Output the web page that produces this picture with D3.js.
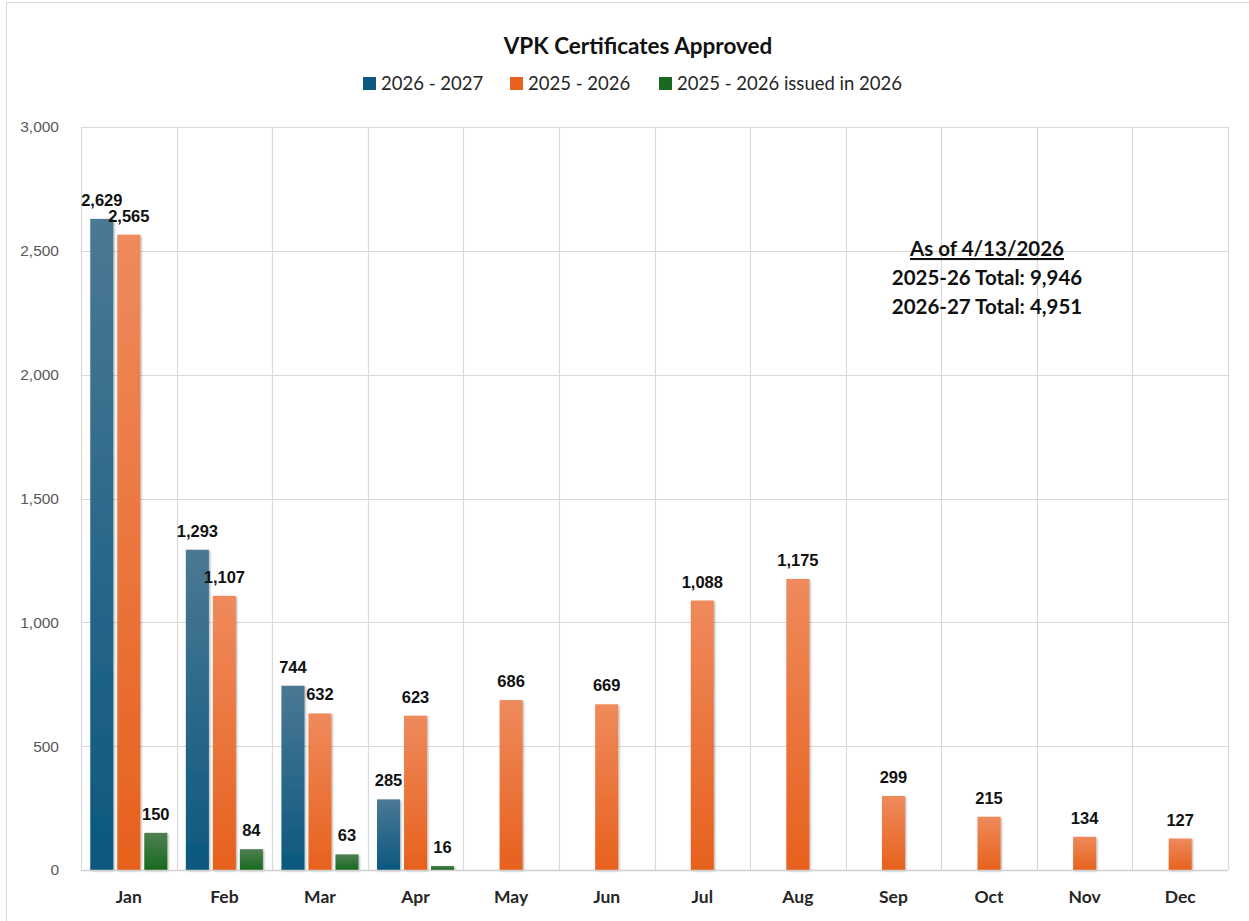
<!DOCTYPE html>
<html>
<head>
<meta charset="utf-8">
<script src="https://cdn.jsdelivr.net/npm/d3@7"></script>
<style>
  body { margin: 0; background: #fff; }
</style>
</head>
<body>
<div id="chart"></div>
<script>
// chart data
var months = ["Jan", "Feb", "Mar", "Apr", "May", "Jun", "Jul", "Aug", "Sep", "Oct", "Nov", "Dec"];
var seriesNames = ["2026 - 2027", "2025 - 2026", "2025 - 2026 issued in 2026"];
var values2627 = [2629, 1293, 744, 285, null, null, null, null, null, null, null, null];
var values2526 = [2565, 1107, 632, 623, 686, 669, 1088, 1175, 299, 215, 134, 127];
var values2526in2026 = [150, 84, 63, 16, null, null, null, null, null, null, null, null];
var yTicks = [0, 500, 1000, 1500, 2000, 2500, 3000];
var noteLines = ["As of 4/13/2026", "2025-26 Total: 9,946", "2026-27 Total: 4,951"];

var W = 1249, H = 921;
var margin = { top: 127, right: 21, bottom: 51, left: 81 };

var svg = d3.select("#chart")
  .append("svg")
    .attr("width", W)
    .attr("height", H)
    .style("font-family", "'Liberation Sans', Arial, sans-serif");

// outer chart border
svg.append("rect")
  .attr("x", 6.5).attr("y", 2.5)
  .attr("width", W + 20).attr("height", H + 20)
  .attr("fill", "#fff")
  .attr("stroke", "#d9d9d9");

var defs = svg.append("defs");
var colors = [
  { top: "#4b7894", bottom: "#0c587f" },
  { top: "#ef8a5c", bottom: "#e7611d" },
  { top: "#4f7f52", bottom: "#176a1f" }
];
colors.forEach(function(c, i) {
  var g = defs.append("linearGradient")
    .attr("id", "grad" + i)
    .attr("x1", 0).attr("y1", 0).attr("x2", 0).attr("y2", 1);
  g.append("stop").attr("offset", "0%").attr("stop-color", c.top);
  g.append("stop").attr("offset", "100%").attr("stop-color", c.bottom);
});
var shadow = defs.append("filter").attr("id", "shadow")
  .attr("x", "-30%").attr("y", "-10%").attr("width", "160%").attr("height", "130%");
shadow.append("feDropShadow")
  .attr("dx", 1).attr("dy", 1).attr("stdDeviation", 1.3)
  .attr("flood-color", "#000").attr("flood-opacity", 0.35);

var x = d3.scaleBand()
  .domain(months)
  .range([margin.left, W - margin.right]);

var xs = d3.scaleBand()
  .domain(d3.range(3))
  .range([0, x.bandwidth()])
  .paddingInner(0.148)
  .paddingOuter(0.344);

var y = d3.scaleLinear()
  .domain([0, 3000])
  .range([H - margin.bottom, margin.top]);

// horizontal gridlines
svg.append("g")
  .selectAll("line")
  .data(yTicks)
  .enter().append("line")
    .attr("x1", margin.left).attr("x2", W - margin.right)
    .attr("y1", function(d) { return Math.round(y(d)) + 0.5; })
    .attr("y2", function(d) { return Math.round(y(d)) + 0.5; })
    .attr("stroke", "#d9d9d9").attr("stroke-width", 1.2);

// vertical gridlines at category edges
var edges = months.map(function(m) { return x(m); }).concat([W - margin.right]);
svg.append("g")
  .selectAll("line")
  .data(edges)
  .enter().append("line")
    .attr("x1", function(d) { return Math.round(d) + 0.5; })
    .attr("x2", function(d) { return Math.round(d) + 0.5; })
    .attr("y1", margin.top).attr("y2", H - margin.bottom)
    .attr("stroke", "#d9d9d9").attr("stroke-width", 1.2);

// y axis labels
var yAxis = svg.append("g")
  .attr("transform", "translate(" + (margin.left - 19) + ",0)")
  .call(d3.axisLeft(y).tickValues(yTicks).tickSize(0).tickFormat(d3.format(",")));
yAxis.select(".domain").remove();
yAxis.selectAll("text")
  .attr("fill", "#595959")
  .style("font-size", "15.5px")
  .style("font-family", "'Liberation Sans', Arial, sans-serif");

// bars
var allSeries = [values2627, values2526, values2526in2026];
var barData = [];
allSeries.forEach(function(vals, s) {
  vals.forEach(function(v, i) {
    if (v !== null) barData.push({ month: months[i], s: s, value: v });
  });
});

svg.append("g")
  .selectAll("rect")
  .data(barData)
  .enter().append("rect")
    .attr("x", function(d) { return x(d.month) + xs(d.s); })
    .attr("y", function(d) { return y(d.value); })
    .attr("width", xs.bandwidth())
    .attr("height", function(d) { return y(0) - y(d.value); })
    .attr("fill", function(d) { return "url(#grad" + d.s + ")"; })
    .attr("filter", "url(#shadow)");

// bottom axis line
svg.append("line")
  .attr("x1", margin.left).attr("x2", W - margin.right)
  .attr("y1", y(0) + 0.5).attr("y2", y(0) + 0.5)
  .attr("stroke", "#d0d0d0").attr("stroke-width", 1.5);

// data labels
svg.append("g")
  .selectAll("text")
  .data(barData)
  .enter().append("text")
    .attr("x", function(d) { return x(d.month) + xs(d.s) + xs.bandwidth() / 2; })
    .attr("y", function(d) { return y(d.value) - 13; })
    .attr("text-anchor", "middle")
    .attr("fill", "#111")
    .style("font-size", "16.5px")
    .style("font-weight", "bold")
    .text(function(d) { return d3.format(",")(d.value); });

// x axis labels
svg.append("g")
  .selectAll("text")
  .data(months)
  .enter().append("text")
    .attr("x", function(d) { return x(d) + x.bandwidth() / 2; })
    .attr("y", 903)
    .attr("text-anchor", "middle")
    .attr("fill", "#262626")
    .style("font-size", "17.5px")
    .style("font-weight", "bold")
    .style("font-family", "Lato, sans-serif")
    .text(function(d) { return d; });

// title
svg.append("text")
  .attr("x", 638).attr("y", 54)
  .attr("text-anchor", "middle")
  .attr("fill", "#111")
  .style("font-size", "22.5px")
  .style("font-weight", "bold")
  .style("font-family", "Lato, sans-serif")
  .text("VPK Certificates Approved");

// legend
var legendX = [363, 510, 659];
var legend = svg.append("g")
  .selectAll("g")
  .data(seriesNames)
  .enter().append("g")
    .attr("transform", function(d, i) { return "translate(" + legendX[i] + ",77)"; });
legend.append("rect")
  .attr("width", 13).attr("height", 13)
  .attr("fill", function(d, i) { return colors[i].bottom; });
legend.append("text")
  .attr("x", 18).attr("y", 13)
  .attr("fill", "#262626")
  .style("font-size", "18.5px")
  .style("font-family", "Lato, sans-serif")
  .text(function(d) { return d; });

// annotation
var note = svg.append("g");
note.selectAll("text")
  .data(noteLines)
  .enter().append("text")
    .attr("x", 987)
    .attr("y", function(d, i) { return 256 + i * 29; })
    .attr("text-anchor", "middle")
    .attr("fill", "#111")
    .style("font-size", "20.5px")
    .style("font-weight", "bold")
    .style("font-family", "Lato, sans-serif")
    .style("text-decoration", function(d, i) { return i === 0 ? "underline" : "none"; })
    .text(function(d) { return d; });
</script>
</body>
</html>
